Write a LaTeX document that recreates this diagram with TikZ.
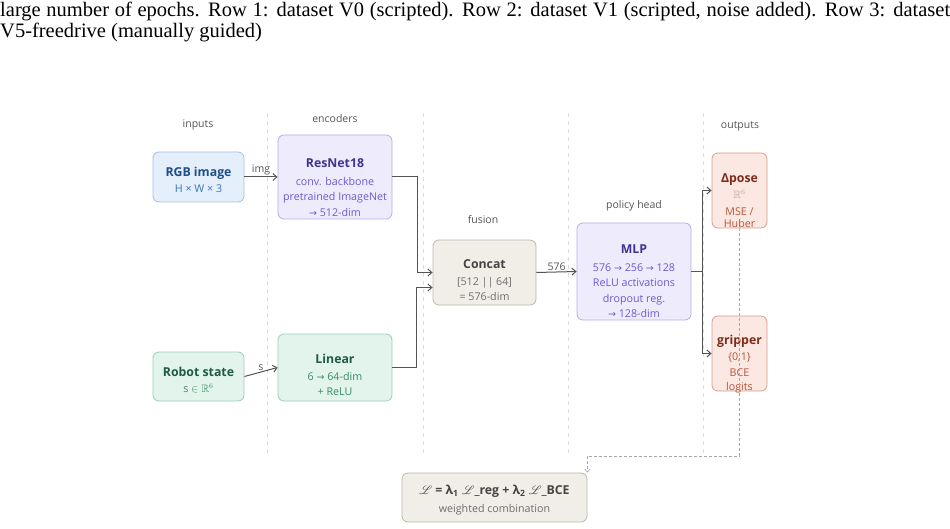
\documentclass[tikz,border=0pt]{standalone}
\usepackage{fontspec}
\usepackage{amssymb}
\usepackage{mathrsfs}
\setmainfont{Open Sans}
\newfontfamily\capfont{Liberation Serif}
\newfontfamily\symfont{DejaVu Sans}
\usetikzlibrary{arrows.meta,positioning,calc}
\definecolor{wirec}{HTML}{555555}
\definecolor{hdrc}{HTML}{555555}
\definecolor{guidec}{HTML}{DDDDDD}
\definecolor{feedc}{HTML}{A8A8A8}
\definecolor{inpf}{HTML}{E4EFFB}
\definecolor{inpb}{HTML}{9EC3E6}
\definecolor{inpt}{HTML}{1F4E86}
\definecolor{inps}{HTML}{3A74BC}
\definecolor{encf}{HTML}{EEEBFD}
\definecolor{encb}{HTML}{B6ABEE}
\definecolor{enct}{HTML}{3F3590}
\definecolor{encs}{HTML}{6A5CCF}
\definecolor{staf}{HTML}{E2F4EC}
\definecolor{stab}{HTML}{9ACFB8}
\definecolor{stat}{HTML}{1F5A44}
\definecolor{stas}{HTML}{3C8A66}
\definecolor{fusf}{HTML}{F1EEE8}
\definecolor{fusb}{HTML}{BDB7AC}
\definecolor{fust}{HTML}{444444}
\definecolor{fuss}{HTML}{6E6E6E}
\definecolor{outf}{HTML}{FBE8E2}
\definecolor{outb}{HTML}{DB9B87}
\definecolor{outt}{HTML}{7B2D1A}
\definecolor{outs}{HTML}{B4563C}
\definecolor{outr}{HTML}{C9A090}
\newcommand{\arr}{{\symfont\fontsize{9.5}{9.5}\selectfont →}}
\newcommand{\ttl}[2]{\textcolor{#1}{\fontsize{12.3}{14}\selectfont\bfseries #2}}

\begin{document}
\begin{tikzpicture}[
  x=1pt,y=-1pt,
  font=\fontsize{10.7}{15.5}\selectfont,>={Straight Barb[length=4pt,width=7pt]},
  hdr/.style={font=\fontsize{10.5}{12}\selectfont, text=hdrc},
  box/.style={rounded corners=6pt, line width=0.8pt},
  txt/.style={align=center, inner sep=0pt},
  inpbox/.style={box, draw=inpb, fill=inpf},
  encbox/.style={box, draw=encb, fill=encf},
  stabox/.style={box, draw=stab, fill=staf},
  fusbox/.style={box, draw=fusb, fill=fusf},
  outbox/.style={box, draw=outb, fill=outf},
  lbl/.style={font=\fontsize{10.5}{12}\selectfont, text=wirec, inner sep=1pt},
  wire/.style={->, draw=wirec, line width=1pt},
  feed/.style={draw=feedc, line width=0.6pt, dash pattern=on 3pt off 2pt},
  guide/.style={draw=guidec, line width=0.6pt, dash pattern=on 4pt off 4pt},
]
\useasboundingbox (0,0) rectangle (950,529);
% caption text cut from the page above
\node[anchor=base west, inner sep=0pt, font=\capfont\fontsize{20.5}{21}\selectfont] (cap1) at (0,17)
  {\hbox to 950pt{large number of epochs. Row 1: dataset V0 (scripted). Row 2: dataset V1 (scripted, noise added). Row 3: dataset}};
\node[anchor=base west, inner sep=0pt, font=\capfont\fontsize{20.5}{21}\selectfont] (cap2) at (0,38)
  {V5-freedrive (manually guided)};
% column guides
\foreach \gx in {267,423,568,703}
  \draw[guide] (\gx,113) -- (\gx,455);
% column headers
\node[hdr] (hinp) at (198,125) {inputs};
\node[hdr] (henc) at (335,119) {encoders};
\node[hdr] (hfus) at (483,220) {fusion};
\node[hdr] (hpol) at (634,206) {policy head};
\node[hdr] (hout) at (740,126) {outputs};
% boxes
\node[inpbox, minimum width=91, minimum height=50] (rgb) at (198.5,177) {};
\node[encbox, minimum width=114, minimum height=84] (resnet) at (335,177) {};
\node[stabox, minimum width=91, minimum height=49] (robot) at (198.5,376.5) {};
\node[stabox, minimum width=114, minimum height=67] (linear) at (335,367.5) {};
\node[fusbox, minimum width=103, minimum height=65] (concat) at (484.5,272.5) {};
\node[encbox, minimum width=114, minimum height=97] (mlp) at (634,271.5) {};
\node[outbox, minimum width=55, minimum height=75] (dpose) at (739.5,190.5) {};
\node[outbox, minimum width=55, minimum height=75] (grip) at (739.5,353.5) {};
\node[fusbox, minimum width=185, minimum height=49] (loss) at (494.5,497.5) {};
% box texts
\node[txt, text=inps] (rgbtxt) at (198.5,180) {\ttl{inpt}{RGB image}\\[1pt]H × W × 3};
\node[txt, text=encs] (resnettxt) at (335,187.5)
  {\ttl{enct}{ResNet18}\\[2pt]conv. backbone\\pretrained ImageNet\\\arr\ 512-dim};
\node[txt, text=stas] (robottxt) at (198.5,380) {\ttl{stat}{Robot state}\\[1pt]s $\in\mathbb{R}^6$};
\node[txt, text=stas] (lineartxt) at (335,375) {\ttl{stat}{Linear}\\[1pt]6 \arr\ 64-dim\\+ ReLU};
\node[txt, text=fuss] (concattxt) at (484.5,280.5) {\ttl{fust}{Concat}\\[1pt][512 || 64]\\= 576-dim};
\node[txt, text=encs] (mlptxt) at (634,281.5)
  {\ttl{enct}{MLP}\\[2pt]576 \arr\ 256 \arr\ 128\\ReLU activations\\dropout reg.\\\arr\ 128-dim};
\node[txt, text=outs] (dposetxt) at (739.5,200.5)
  {\ttl{outt}{Δpose}\\[1pt]\textcolor{outr}{$\mathbb{R}^6$}\\[1pt]MSE /\\[-3pt]Huber};
\node[txt, text=outs] (griptxt) at (739.5,364) {\ttl{outt}{gripper}\\[1pt]\{0,1\}\\BCE\\[-1pt]logits};
\node[txt, text=fuss] (losstxt) at (494.5,500)
  {\ttl{fust}{$\mathscr{L}$ = λ\textsubscript{1} $\mathscr{L}$\_reg + λ\textsubscript{2} $\mathscr{L}$\_BCE}\\[2pt]weighted combination};
% flows
\draw[wire] (rgb.east) -- node[lbl, above]{img} (resnet.west);
\draw[wire] (robot.east) -- node[lbl, above]{s} (linear.west);
\draw[wire] (resnet.east) -- ++(25,0) |- (concat.west);
\draw[wire] (linear.east) -- ++(24,0) |- ([yshift=-15pt]concat.west);
\draw[wire] (concat.east) -- node[lbl, above]{576} (mlp.west);
\draw[wire] (mlp.east) -- ++(11,0) |- (dpose.west);
\draw[wire] (mlp.east) -- ++(11,0) |- (grip.west);
% loss feed
\coordinate (lossjoin) at (739.5,456);
\draw[feed, ->, >={Straight Barb[length=3pt,width=5pt]}] (dpose.south) -- (lossjoin) -| (loss.north east);
\end{tikzpicture}
\end{document}
